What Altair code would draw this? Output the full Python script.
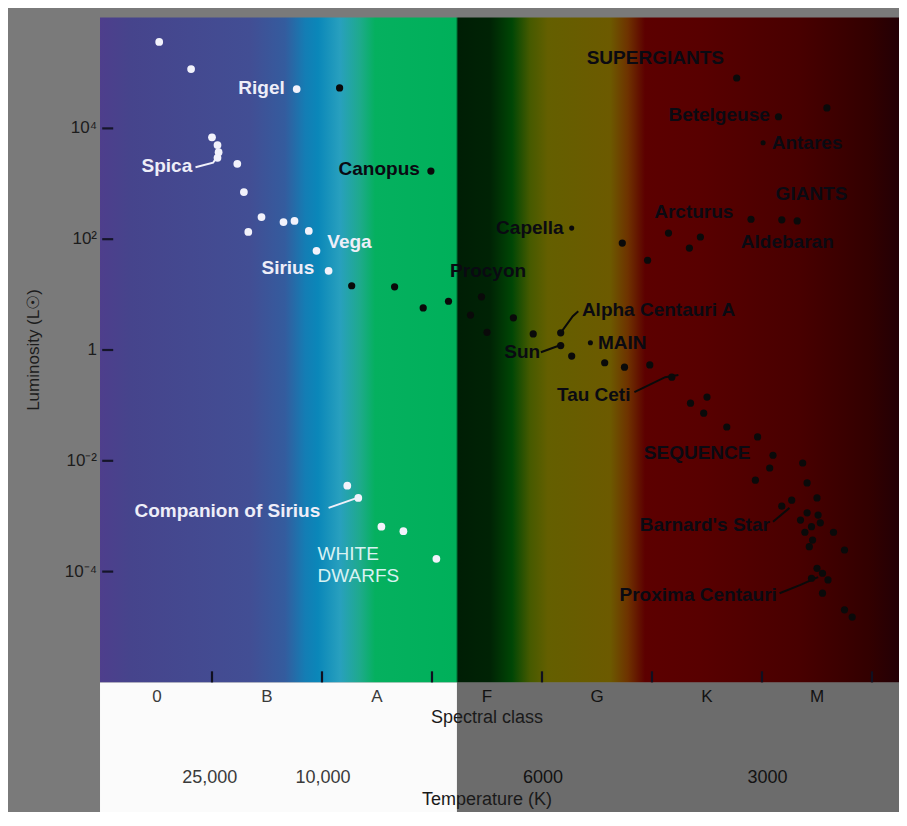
import altair as alt
import pandas as pd

# ---------------- frame / scales (spectral index, log10 luminosity) ----------------
X_DOMAIN = [-1.3545, 6.7455]
Y_DOMAIN = [-8.3394, 6.1733]
PLOT_LEFT = -0.518
PLOT_RIGHT = 6.7455
L_TOP = 6.0
L_BOTTOM = -6.0
SPOT_EDGE = 2.727

# ---------------- axis values ----------------
spectral_classes = ["0", "B", "A", "F", "G", "K", "M"]
spectral_pos = [0, 1, 2, 3, 4, 5, 6]
class_boundaries = [0.5, 1.5, 2.5, 3.5, 4.5, 5.5, 6.5]
temp_labels = ["25,000", "10,000", "6000", "3000"]
temp_pos = [0.48, 1.51, 3.51, 5.55]
lum_ticks = [4, 2, 0, -2, -4]
lum_tick_labels = ["10\u2074", "10\u00b2", "1", "10\u207b\u00b2", "10\u207b\u2074"]

# ---------------- stars ----------------
white_s = [0.02, 0.31, 1.27, 0.50, 0.55, 0.56, 0.55, 0.73, 0.79, 0.95, 0.83, 1.15, 1.25, 1.38, 1.45, 1.56,
           1.73, 1.83, 2.04, 2.24, 2.54]
white_l = [5.56, 5.07, 4.71, 3.84, 3.70, 3.57, 3.47, 3.36, 2.85, 2.40, 2.13, 2.31, 2.33, 2.15, 1.79, 1.43,
           -2.45, -2.67, -3.19, -3.27, -3.77]

black_s = [1.66, 2.49, 1.77, 2.16, 2.42, 2.65, 2.85, 2.95, 3.00, 3.24, 3.42, 3.67, 3.67, 3.77, 4.07, 4.25, 4.48,
           4.23, 4.46, 4.65, 4.84, 4.94, 5.40, 5.68, 5.82, 5.27, 5.65, 6.09, 4.68,
           4.85, 5.00, 4.97, 5.18, 5.46, 5.60, 5.87, 5.57, 5.44, 5.91, 6.00, 5.68, 5.91, 5.95, 6.15, 5.96,
           6.25, 6.05, 6.10, 6.05, 6.25, 6.32, 5.85, 6.01, 5.89, 6.00, 5.95, 5.77, 5.93, 6.03]
black_l = [4.73, 3.23, 1.16, 1.14, 0.76, 0.88, 0.63, 0.96, 0.32, 0.58, 0.29, 0.31, 0.08, -0.11, -0.23, -0.31, -0.27,
           1.93, 1.62, 2.11, 1.84, 2.04, 2.36, 2.35, 2.33, 4.91, 4.21, 4.37, -0.49,
           -0.96, -0.85, -1.14, -1.39, -1.57, -1.90, -2.04, -2.13, -2.35, -2.40, -2.67, -2.82, -2.94, -3.19, -3.29, -3.43,
           -3.61, -4.03, -4.15, -4.39, -4.69, -4.82, -3.07, -2.98, -3.29, -3.94, -4.12, -2.71, -3.55, -3.12]

small_s = [3.77, 3.94, 5.51]   # Capella, MAIN marker, Antares
small_l = [2.20, 0.13, 3.74]

# ---------------- labels ----------------
white_label_text = ["Rigel", "Spica", "Vega", "Sirius", "Companion of Sirius"]
white_label_s = [0.95, 0.09, 1.75, 1.19, 0.64]
white_label_l = [4.73, 3.32, 1.95, 1.48, -2.91]

wd_text = ["WHITE", "DWARFS"]
wd_s = [1.46, 1.46]
wd_l = [-3.68, -4.08]

dark_label_text = ["Canopus", "SUPERGIANTS", "Betelgeuse", "Antares", "GIANTS", "Arcturus", "Aldebaran",
                   "Capella", "Procyon", "Alpha Centauri A", "Sun", "MAIN", "Tau Ceti", "SEQUENCE",
                   "Barnard's Star", "Proxima Centauri"]
dark_label_s = [2.02, 4.53, 5.11, 5.91, 5.95, 4.88, 5.73, 3.39, 3.01, 4.56, 3.32, 4.23, 3.97, 4.91, 4.98, 4.92]
dark_label_l = [3.27, 5.27, 4.24, 3.74, 2.82, 2.49, 1.95, 2.20, 1.43, 0.72, -0.04, 0.13, -0.81, -1.86, -3.16, -4.42]

# pointer lines (segment id, s, l)
white_ptr_seg = ["Spica", "Spica", "Spica", "Comp", "Comp"]
white_ptr_s = [0.35, 0.51, 0.55, 1.56, 1.82]
white_ptr_l = [3.30, 3.38, 3.50, -2.85, -2.67]

dark_ptr_seg = ["AlphaA", "AlphaA", "AlphaA", "Sun", "Sun", "Tau", "Tau", "Tau", "Barn", "Barn",
                "Prox", "Prox", "Prox"]
dark_ptr_s = [3.67, 3.78, 3.83, 3.49, 3.67, 4.34, 4.62, 4.74, 5.60, 5.75, 5.66, 5.85, 6.01]
dark_ptr_l = [0.31, 0.61, 0.70, -0.04, 0.09, -0.76, -0.49, -0.45, -3.10, -2.85, -4.39, -4.24, -4.10]

# background spectrum (offset along plot width, colour)
grad_offsets = [0.0, 0.0375, 0.1877, 0.2315, 0.2566, 0.2728, 0.3004, 0.3254, 0.3442, 0.4456, 0.4481,
                0.4881, 0.5156, 0.5382, 0.5607, 0.6383, 0.6608, 0.6821, 0.7509, 0.8761, 0.9637, 1.0]
grad_colors = ["#4e3e8c", "#46448c", "#424e94", "#345c9e", "#147db4", "#0a87b9", "#28a0be", "#1eaa8c",
               "#05b05f", "#00b05a", "#001e05", "#002305", "#004605", "#465a00", "#645f00", "#6c5a00",
               "#6e3200", "#5c0000", "#580000", "#480000", "#320000", "#230005"]

FONT = "Liberation Sans"

xs = alt.Scale(domain=X_DOMAIN, nice=False, zero=False)
ys = alt.Scale(domain=Y_DOMAIN, nice=False, zero=False)


def X(f):
    return alt.X(f, type="quantitative", scale=xs, axis=None)


def Y(f):
    return alt.Y(f, type="quantitative", scale=ys, axis=None)


# ---------------- layers ----------------
plot_bg = pd.DataFrame({"x1": [PLOT_LEFT], "x2": [PLOT_RIGHT], "y1": [L_TOP], "y2": [L_BOTTOM]})
gradient = alt.LinearGradient(
    gradient="linear",
    stops=[alt.GradientStop(offset=o, color=c) for o, c in zip(grad_offsets, grad_colors)],
    x1=0, x2=1, y1=0, y2=0,
)
bg_layer = alt.Chart(plot_bg).mark_rect(fill=gradient).encode(
    x=X("x1"), x2=alt.X2("x2"), y=Y("y1"), y2=alt.Y2("y2"))

bottom_df = pd.DataFrame({"x1": [PLOT_LEFT, SPOT_EDGE], "x2": [SPOT_EDGE, PLOT_RIGHT],
                          "y1": [L_BOTTOM, L_BOTTOM], "y2": [Y_DOMAIN[0], Y_DOMAIN[0]],
                          "part": ["lit", "dim"]})
bottom_layer = alt.Chart(bottom_df).mark_rect().encode(
    x=X("x1"), x2=alt.X2("x2"), y=Y("y1"), y2=alt.Y2("y2"),
    color=alt.Color("part:N", scale=alt.Scale(domain=["lit", "dim"], range=["#fbfbfb", "#6c6c6c"]),
                    legend=None))

# y axis ticks + labels
ytick_df = pd.DataFrame({"l": lum_ticks, "label": lum_tick_labels,
                         "a": [PLOT_LEFT + 0.02] * 5, "b": [PLOT_LEFT + 0.12] * 5, "edge": [PLOT_LEFT] * 5})
ytick_layer = alt.Chart(ytick_df).mark_rule(color="#15152a", strokeWidth=2.2).encode(
    x=X("a"), x2=alt.X2("b"), y=Y("l"))
ylab_layer = alt.Chart(ytick_df).mark_text(align="right", dx=-3, font=FONT, fontSize=17,
                                           color="#1c1c1c").encode(x=X("edge"), y=Y("l"), text="label:N")

ytitle_df = pd.DataFrame({"s": [PLOT_LEFT - 0.6], "l": [0.0], "t": ["Luminosity (L\u2609)"]})
ytitle_layer = alt.Chart(ytitle_df).mark_text(angle=270, font=FONT, fontSize=17, color="#1c1c1c").encode(
    x=X("s"), y=Y("l"), text="t:N")

# x ticks
xtick_df = pd.DataFrame({"s": class_boundaries, "a": [L_BOTTOM] * 7, "b": [L_BOTTOM + 0.2] * 7})
xtick_layer = alt.Chart(xtick_df).mark_rule(color="#101020", strokeWidth=2.2).encode(
    x=X("s"), y=Y("a"), y2=alt.Y2("b"))

text_color = alt.condition(f"datum.s < {SPOT_EDGE}", alt.value("#3a3a3a"), alt.value("#121212"))

spec_df = pd.DataFrame({"s": spectral_pos, "t": spectral_classes, "l": [L_BOTTOM] * 7})
spec_layer = alt.Chart(spec_df).mark_text(dy=15, font=FONT, fontSize=17).encode(
    x=X("s"), y=Y("l"), text="t:N", color=text_color)

temp_df = pd.DataFrame({"s": temp_pos, "t": temp_labels, "l": [L_BOTTOM] * 4})
temp_layer = alt.Chart(temp_df).mark_text(dy=96, font=FONT, fontSize=18).encode(
    x=X("s"), y=Y("l"), text="t:N", color=text_color)

title_df = pd.DataFrame({"s": [3.0, 3.0], "l": [L_BOTTOM, L_BOTTOM],
                         "t": ["Spectral class", "Temperature (K)"], "k": ["a", "b"]})
stitle_layer = alt.Chart(title_df[title_df.k == "a"]).mark_text(dy=36, font=FONT, fontSize=18,
                                                                color="#1a1a1a").encode(
    x=X("s"), y=Y("l"), text="t:N")
ttitle_layer = alt.Chart(title_df[title_df.k == "b"]).mark_text(dy=118, font=FONT, fontSize=18,
                                                                color="#1a1a1a").encode(
    x=X("s"), y=Y("l"), text="t:N")

# pointer lines
wptr = pd.DataFrame({"seg": white_ptr_seg, "s": white_ptr_s, "l": white_ptr_l,
                     "k": list(range(len(white_ptr_s)))})
wptr_layer = alt.Chart(wptr).mark_line(color="#f0f0fa", strokeWidth=2).encode(
    x=X("s"), y=Y("l"), detail="seg:N", order="k:Q")
dptr = pd.DataFrame({"seg": dark_ptr_seg, "s": dark_ptr_s, "l": dark_ptr_l,
                     "k": list(range(len(dark_ptr_s)))})
dptr_layer = alt.Chart(dptr).mark_line(color="#0a0a0a", strokeWidth=2).encode(
    x=X("s"), y=Y("l"), detail="seg:N", order="k:Q")

# stars
white_df = pd.DataFrame({"s": white_s, "l": white_l})
white_layer = alt.Chart(white_df).mark_circle(size=60, color="#f2f2fb", opacity=1).encode(
    x=X("s"), y=Y("l"))
black_df = pd.DataFrame({"s": black_s, "l": black_l})
black_layer = alt.Chart(black_df).mark_circle(size=52, color="#0a0a0a", opacity=1).encode(
    x=X("s"), y=Y("l"))
small_df = pd.DataFrame({"s": small_s, "l": small_l})
small_layer = alt.Chart(small_df).mark_circle(size=26, color="#0a0a0a", opacity=1).encode(
    x=X("s"), y=Y("l"))

# star labels
wl_df = pd.DataFrame({"s": white_label_s, "l": white_label_l, "t": white_label_text})
wl_layer = alt.Chart(wl_df).mark_text(font=FONT, fontSize=19, fontWeight="bold", color="#eeeef8").encode(
    x=X("s"), y=Y("l"), text="t:N")
wd_df = pd.DataFrame({"s": wd_s, "l": wd_l, "t": wd_text})
wd_layer = alt.Chart(wd_df).mark_text(align="left", font=FONT, fontSize=19, color="#d8f2f2").encode(
    x=X("s"), y=Y("l"), text="t:N")
dl_df = pd.DataFrame({"s": dark_label_s, "l": dark_label_l, "t": dark_label_text})
dl_layer = alt.Chart(dl_df).mark_text(font=FONT, fontSize=19, fontWeight="bold", color="#0a0a12").encode(
    x=X("s"), y=Y("l"), text="t:N")

chart = alt.layer(
    bg_layer, bottom_layer, ytick_layer, ylab_layer, ytitle_layer, xtick_layer,
    spec_layer, temp_layer, stitle_layer, ttitle_layer,
    wptr_layer, dptr_layer, white_layer, black_layer, small_layer,
    wl_layer, wd_layer, dl_layer,
).properties(
    width=891, height=804, padding=0, background="#7a7a7a",
    autosize=alt.AutoSizeParams(type="none"),
).configure_view(strokeWidth=0)

chart.save("out.html", embed_options={"renderer": "svg", "actions": False})
